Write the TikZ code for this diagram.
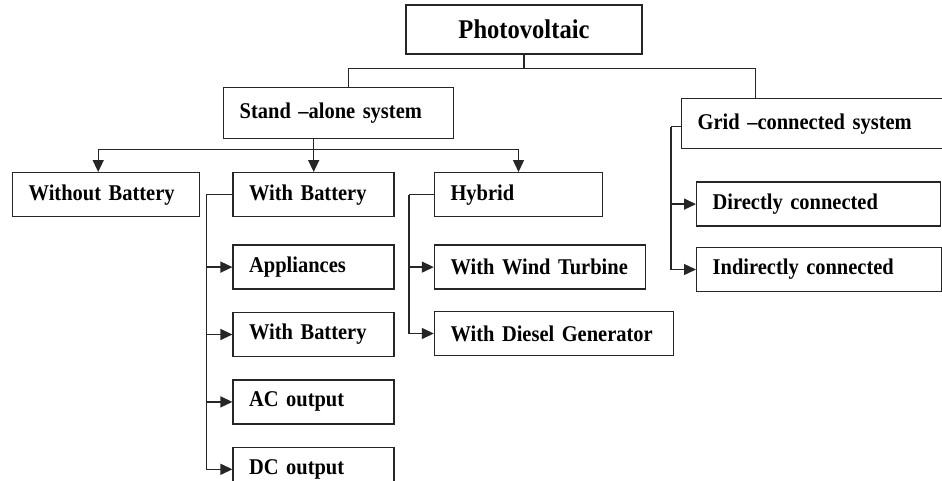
\documentclass[tikz,border=0pt]{standalone}
\usepackage{fontspec}
\setmainfont[FakeStretch=0.91]{Liberation Serif}
\usetikzlibrary{arrows.meta,positioning}
\tikzset{
  box/.style={draw=black!85, line width=1.4pt, text width=#1, align=left, minimum height=44pt,
              inner xsep=16pt, font=\fontsize{22.5}{26}\selectfont\bfseries},
  link/.style={line width=1.4pt, black!85},
  arr/.style={-{Triangle[length=12pt,width=11pt]}, line width=1.4pt, black!85}
}
\begin{document}
\begin{tikzpicture}[x=1pt, y=1pt, node distance=22pt]
  \useasboundingbox (0,0) rectangle (942,-480);
  \node[box=204pt, minimum height=49pt, align=center, font=\fontsize{27}{30}\selectfont\bfseries] (pv) at (524,-29.5) {Photovoltaic};
  \node[box=198pt, minimum height=51pt, anchor=north west] (sa) at (223,-87) {Stand –alone system};
  \node[box=231pt, minimum height=50pt, anchor=north west] (gc) at (681,-98) {Grid –connected system};
  \node[box=155pt, anchor=north west] (wob) at (12,-172) {Without Battery};
  \node[box=129pt, right=32pt of wob] (wb) {With Battery};
  \node[box=136pt, right=39pt of wb] (hy) {Hybrid};
  \node[box=129pt, below=27pt of wb.south west, anchor=north west] (app) {Appliances};
  \node[box=129pt, below=of app.south west, anchor=north west] (wb2) {With Battery};
  \node[box=129pt, below=of wb2.south west, anchor=north west] (ac) {AC output};
  \node[box=129pt, below=of ac.south west, anchor=north west] (dc) {DC output};
  \node[box=179pt, below=27pt of hy.south west, anchor=north west] (wt) {With Wind Turbine};
  \node[box=207pt, below=21pt of wt.south west, anchor=north west] (dg) {With Diesel Generator};
  \node[box=212pt, below=32pt of gc.south west, anchor=north west, xshift=15pt] (dir) {Directly connected};
  \node[box=213pt, below=20pt of dir.south west, anchor=north west] (ind) {Indirectly connected};
  \draw[link] (pv.south) -- ++(0,-14) coordinate (pvj);
  \draw[link] (pvj) -| ([xshift=10pt]sa.north); \draw[link] (pvj) -| ([xshift=-58pt]gc.north);
  \draw[link] ([xshift=-25pt]sa.south) -- ++(0,-10) coordinate (saj);
  \draw[arr] (saj) -| ([xshift=-8pt]wob.north); \draw[arr] (saj) -- (saj |- wb.north);
  \draw[arr] (saj) -| (hy.north);
  \draw[link] (wb.west) -- ++(-26,0) coordinate (wbj);
  \draw[arr] (wbj) |- (app.west); \draw[arr] (wbj) |- (wb2.west);
  \draw[arr] (wbj) |- (ac.west); \draw[arr] (wbj) |- (dc.west);
  \draw[link] (hy.west) -- ++(-25,0) coordinate (hyj);
  \draw[arr] (hyj) |- (wt.west); \draw[arr] (hyj) |- (dg.west);
  \draw[link] ([yshift=-3pt]gc.west) -- ++(-10,0) coordinate (gcj);
  \draw[arr] (gcj) |- (dir.west); \draw[arr] (gcj) |- (ind.west);
\end{tikzpicture}
\end{document}
